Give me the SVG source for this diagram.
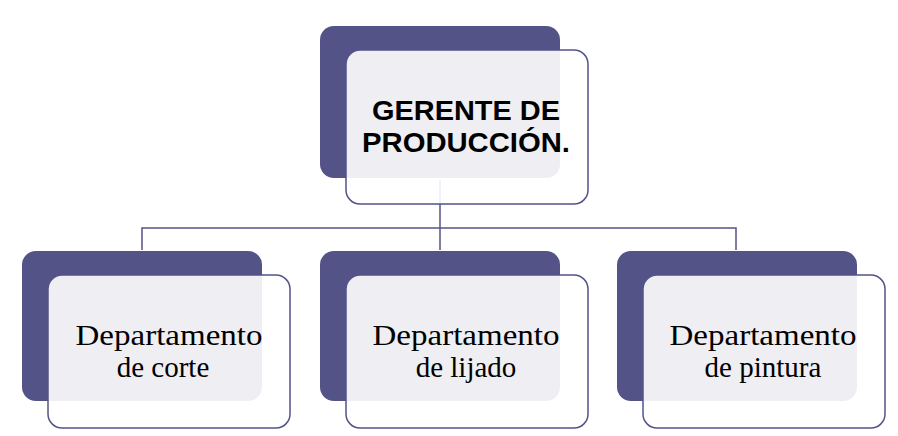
<svg xmlns="http://www.w3.org/2000/svg" width="898" height="436" viewBox="0 0 898 436">
<style>
.d{fill:#535388}
.l{fill:#ffffff;fill-opacity:0.9;stroke:#535388;stroke-width:1.5}
.t{font-family:"Liberation Serif",serif;font-size:29px;fill:#000;text-anchor:middle}
.h{font-family:"Liberation Sans",sans-serif;font-size:28px;font-weight:bold;fill:#000;text-anchor:middle}
.c{stroke:#535388;stroke-width:1.5;fill:none}
</style>
<rect width="898" height="436" fill="#fff"/>
<g id="connectors">
<path class="c" d="M440 180V250M142 250V228H736V250"/>
</g>
<g id="gerente">
<rect class="d" x="320" y="26" width="240" height="152" rx="14"/>
<rect class="l" x="346" y="50" width="242" height="154" rx="14"/>
<text class="h" x="466" y="120" textLength="188" lengthAdjust="spacingAndGlyphs">GERENTE DE</text>
<text class="h" x="466" y="152" textLength="208" lengthAdjust="spacingAndGlyphs">PRODUCCIÓN.</text>
</g>
<g id="corte">
<rect class="d" x="22" y="251" width="240" height="150" rx="14"/>
<rect class="l" x="48" y="275" width="242" height="153" rx="14"/>
<text class="t" x="169" y="345" textLength="187" lengthAdjust="spacingAndGlyphs">Departamento</text>
<text class="t" x="163" y="377">de corte</text>
</g>
<g id="lijado">
<rect class="d" x="320" y="251" width="240" height="150" rx="14"/>
<rect class="l" x="346" y="275" width="242" height="153" rx="14"/>
<text class="t" x="466" y="345" textLength="187" lengthAdjust="spacingAndGlyphs">Departamento</text>
<text class="t" x="466" y="377">de lijado</text>
</g>
<g id="pintura">
<rect class="d" x="617" y="251" width="240" height="150" rx="14"/>
<rect class="l" x="643" y="275" width="242" height="153" rx="14"/>
<text class="t" x="763" y="345" textLength="187" lengthAdjust="spacingAndGlyphs">Departamento</text>
<text class="t" x="763" y="377">de pintura</text>
</g>
</svg>
